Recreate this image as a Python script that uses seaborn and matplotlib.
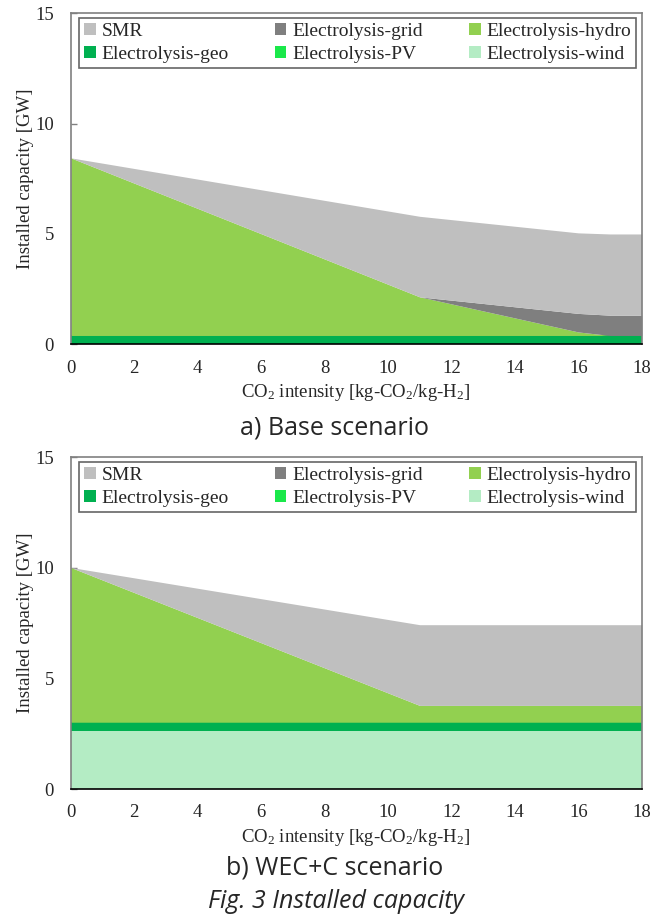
import matplotlib
matplotlib.use("Agg")
import matplotlib.pyplot as plt
import seaborn as sns
from matplotlib.patches import Patch

# ---------------- data ----------------
series_names = ["SMR", "Electrolysis-grid", "Electrolysis-hydro",
                "Electrolysis-geo", "Electrolysis-PV", "Electrolysis-wind"]
series_colors = ["#BFBFBF", "#7F7F7F", "#92D050", "#00B050", "#1AE84A", "#B4ECC4"]

x_ticks = [0, 2, 4, 6, 8, 10, 12, 14, 16, 18]
y_ticks = [0, 5, 10, 15]

# a) Base scenario
base_x = [0, 11, 16, 17, 18]
base_wind = [0, 0, 0, 0, 0]
base_geo = [0.4, 0.4, 0.4, 0.4, 0.4]
base_pv = [0, 0, 0, 0, 0]
base_hydro = [8.05, 1.75, 0.16, 0, 0]
base_grid = [0, 0, 0.84, 0.92, 0.92]
base_smr = [0, 3.65, 3.65, 3.68, 3.68]

# b) WEC+C scenario
wec_x = [0, 11, 18]
wec_wind = [2.62, 2.62, 2.62]
wec_geo = [0.4, 0.4, 0.4]
wec_pv = [0, 0, 0]
wec_hydro = [7.0, 0.76, 0.76]
wec_grid = [0, 0, 0]
wec_smr = [0, 3.65, 3.65]

# ---------------- style ----------------
sns.set_theme(style="white")
plt.rcParams["font.family"] = ["Liberation Serif", "DejaVu Serif"]
plt.rcParams["mathtext.fontset"] = "custom"
plt.rcParams["mathtext.rm"] = "Liberation Serif"
plt.rcParams["mathtext.it"] = "Liberation Serif:italic"
plt.rcParams["mathtext.bf"] = "Liberation Serif:bold"

W, H = 665, 922
fig = plt.figure(figsize=(W / 100, H / 100), dpi=100)

color_map = dict(zip(series_names, series_colors))
stack_order = ["Electrolysis-wind", "Electrolysis-geo", "Electrolysis-PV",
               "Electrolysis-hydro", "Electrolysis-grid", "SMR"]
# legend is filled column by column: reorder so rows read like the reference
legend_order = [0, 3, 1, 4, 2, 5]


def axes_px(left, top, right, bottom):
    return fig.add_axes([left / W, 1 - bottom / H, (right - left) / W, (bottom - top) / H])


def draw(ax, x, data):
    ys = [data[n] for n in stack_order]
    ax.stackplot(x, *ys, colors=[color_map[n] for n in stack_order], linewidth=0)
    ax.set_xlim(0, 18)
    ax.set_ylim(0, 15)
    ax.set_xticks(x_ticks)
    ax.set_yticks(y_ticks)
    ax.tick_params(axis="y", direction="in", length=4, width=1, color="#808080",
                   pad=12, labelsize=13.5, left=True)
    ax.tick_params(axis="x", length=0, pad=11, labelsize=13.5)
    for s in ["top", "right", "left"]:
        ax.spines[s].set_color("#808080")
        ax.spines[s].set_linewidth(1.2)
    ax.spines["bottom"].set_color("#000000")
    ax.spines["bottom"].set_linewidth(1.2)
    for s in ax.spines.values():
        s.set_zorder(5)
    ax.set_xlabel(r"CO$_2$ intensity [kg-CO$_2$/kg-H$_2$]", fontsize=13.5, labelpad=4)
    ax.set_ylabel("Installed capacity [GW]", fontsize=13.5, labelpad=1)
    names = [series_names[i] for i in legend_order]
    handles = [Patch(facecolor=color_map[n], edgecolor="none") for n in names]
    leg = ax.legend(handles, names, ncol=3, loc="upper left",
                    bbox_to_anchor=(0.0145, 0.985, 0.9755, 0.0), mode="expand",
                    frameon=True, fancybox=False, fontsize=14,
                    handlelength=0.6, handleheight=0.6, handletextpad=0.3,
                    labelspacing=0.3, borderpad=0.25, borderaxespad=0.0)
    leg.get_frame().set_edgecolor("#404040")
    leg.get_frame().set_linewidth(1.2)


ax1 = axes_px(70.7, 13.3, 641.7, 344.3)
draw(ax1, base_x, {"SMR": base_smr, "Electrolysis-grid": base_grid,
                   "Electrolysis-hydro": base_hydro, "Electrolysis-geo": base_geo,
                   "Electrolysis-PV": base_pv, "Electrolysis-wind": base_wind})

ax2 = axes_px(70.7, 457.3, 641.7, 789.0)
draw(ax2, wec_x, {"SMR": wec_smr, "Electrolysis-grid": wec_grid,
                  "Electrolysis-hydro": wec_hydro, "Electrolysis-geo": wec_geo,
                  "Electrolysis-PV": wec_pv, "Electrolysis-wind": wec_wind})

fig.text(335 / W, 1 - 428 / H, "a) Base scenario", ha="center", va="center",
         fontsize=18, family=["Open Sans", "DejaVu Sans"])
fig.text(335 / W, 1 - 868 / H, "b) WEC+C scenario", ha="center", va="center",
         fontsize=18, family=["Open Sans", "DejaVu Sans"])
fig.text(336 / W, 1 - 901 / H, "Fig. 3 Installed capacity", ha="center", va="center",
         fontsize=18, style="italic", family=["Open Sans", "DejaVu Sans"])

fig.savefig("out.png", dpi=100)
